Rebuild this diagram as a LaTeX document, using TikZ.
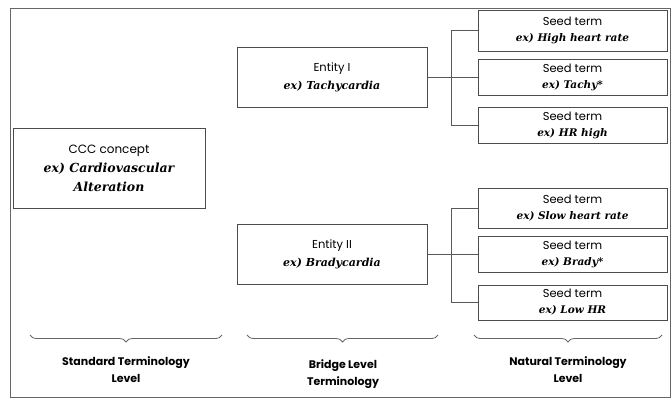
\documentclass[tikz,border=0pt]{standalone}
\usepackage{fontspec}
\setmainfont{DejaVu Serif}
\setsansfont{Poppins}
\usetikzlibrary{positioning,decorations.pathreplacing}

% the serif example line inside every box
\newcommand{\exterm}[1]{{\rmfamily\itshape\bfseries ex)~#1}}

\begin{document}
\begin{tikzpicture}[
  x=1pt, y=-1pt,
  font=\sffamily,
  box/.style={draw=black!70, line width=1pt, fill=white, align=center,
              inner sep=2pt, text=black},
  seed/.style={box, minimum width=189pt,
               font=\sffamily\fontsize{11.5}{16}\selectfont},
  ent/.style={box, minimum width=190pt, minimum height=60pt,
              font=\sffamily\fontsize{11.5}{18}\selectfont},
  concept/.style={box, minimum width=192pt, minimum height=80pt,
                  font=\sffamily\fontsize{12}{19}\selectfont},
  link/.style={draw=black!65, line width=0.9pt},
  brk/.style={draw=black!60, line width=0.8pt, decorate,
              decoration={brace, mirror, amplitude=7pt}},
  lev/.style={font=\sffamily\bfseries\fontsize{11}{17}\selectfont,
              align=center, text=black}
]
\useasboundingbox (0,0) rectangle (671,399);
\draw[draw=black!60, line width=1pt] (10,8) rectangle (670,397);

% ================= standard level =================
\node[concept] (ccc) at (109,168)
  {CCC concept\\{\fontsize{12.5}{19}\selectfont\exterm{Cardiovascular}}\\
   {\fontsize{12.5}{19}\selectfont\rmfamily\itshape\bfseries Alteration}};

% ================= bridge level =================
\node[ent] (ent1) at (332,77) {Entity I\\{\fontsize{11}{18}\selectfont\exterm{Tachycardia}}};
\node[ent] (ent2) at (332,254) {Entity II\\{\fontsize{11}{18}\selectfont\exterm{Bradycardia}}};

% ================= natural level =================
\node[seed, minimum height=41pt] (seed1) at (572.5,30.5) {Seed term\\{\fontsize{10.5}{16}\selectfont\exterm{High heart rate}}};
\node[seed, minimum height=36pt] (seed2) at (572.5,77) {Seed term\\{\fontsize{10.5}{16}\selectfont\exterm{Tachy*}}};
\node[seed, minimum height=36pt] (seed3) at (572.5,125) {Seed term\\{\fontsize{10.5}{16}\selectfont\exterm{HR high}}};
\node[seed, minimum height=40pt] (seed4) at (572.5,208) {Seed term\\{\fontsize{10.5}{16}\selectfont\exterm{Slow heart rate}}};
\node[seed, minimum height=36pt] (seed5) at (572.5,254) {Seed term\\{\fontsize{10.5}{16}\selectfont\exterm{Brady*}}};
\node[seed, minimum height=35pt] (seed6) at (572.5,302.5) {Seed term\\{\fontsize{10.5}{16}\selectfont\exterm{Low HR}}};

% bus lines between the two columns
\coordinate (bus) at (451,0);
\draw[link] (ent1.east) -- (seed2.west);
\draw[link] (seed1.west) -- (seed1.west -| bus) -- (seed3.west -| bus) -- (seed3.west);
\draw[link] (ent2.east) -- (seed5.west);
\draw[link] (seed4.west) -- (seed4.west -| bus) -- (seed6.west -| bus) -- (seed6.west);

% ================= level brackets =================
\coordinate (b1l) at (30,335);  \coordinate (b1r) at (222,335);
\coordinate (b2l) at (247,335); \coordinate (b2r) at (438,335);
\coordinate (b3l) at (474,335); \coordinate (b3r) at (662,335);
\draw[brk] (b1l) -- (b1r);
\draw[brk] (b2l) -- (b2r);
\draw[brk] (b3l) -- (b3r);

\node[lev] (lev1) at (126,370) {Standard Terminology\\Level};
\node[lev] (lev2) at (343,374) {Bridge Level\\Terminology};
\node[lev] (lev3) at (568,370) {Natural Terminology\\Level};

\end{tikzpicture}
\end{document}
